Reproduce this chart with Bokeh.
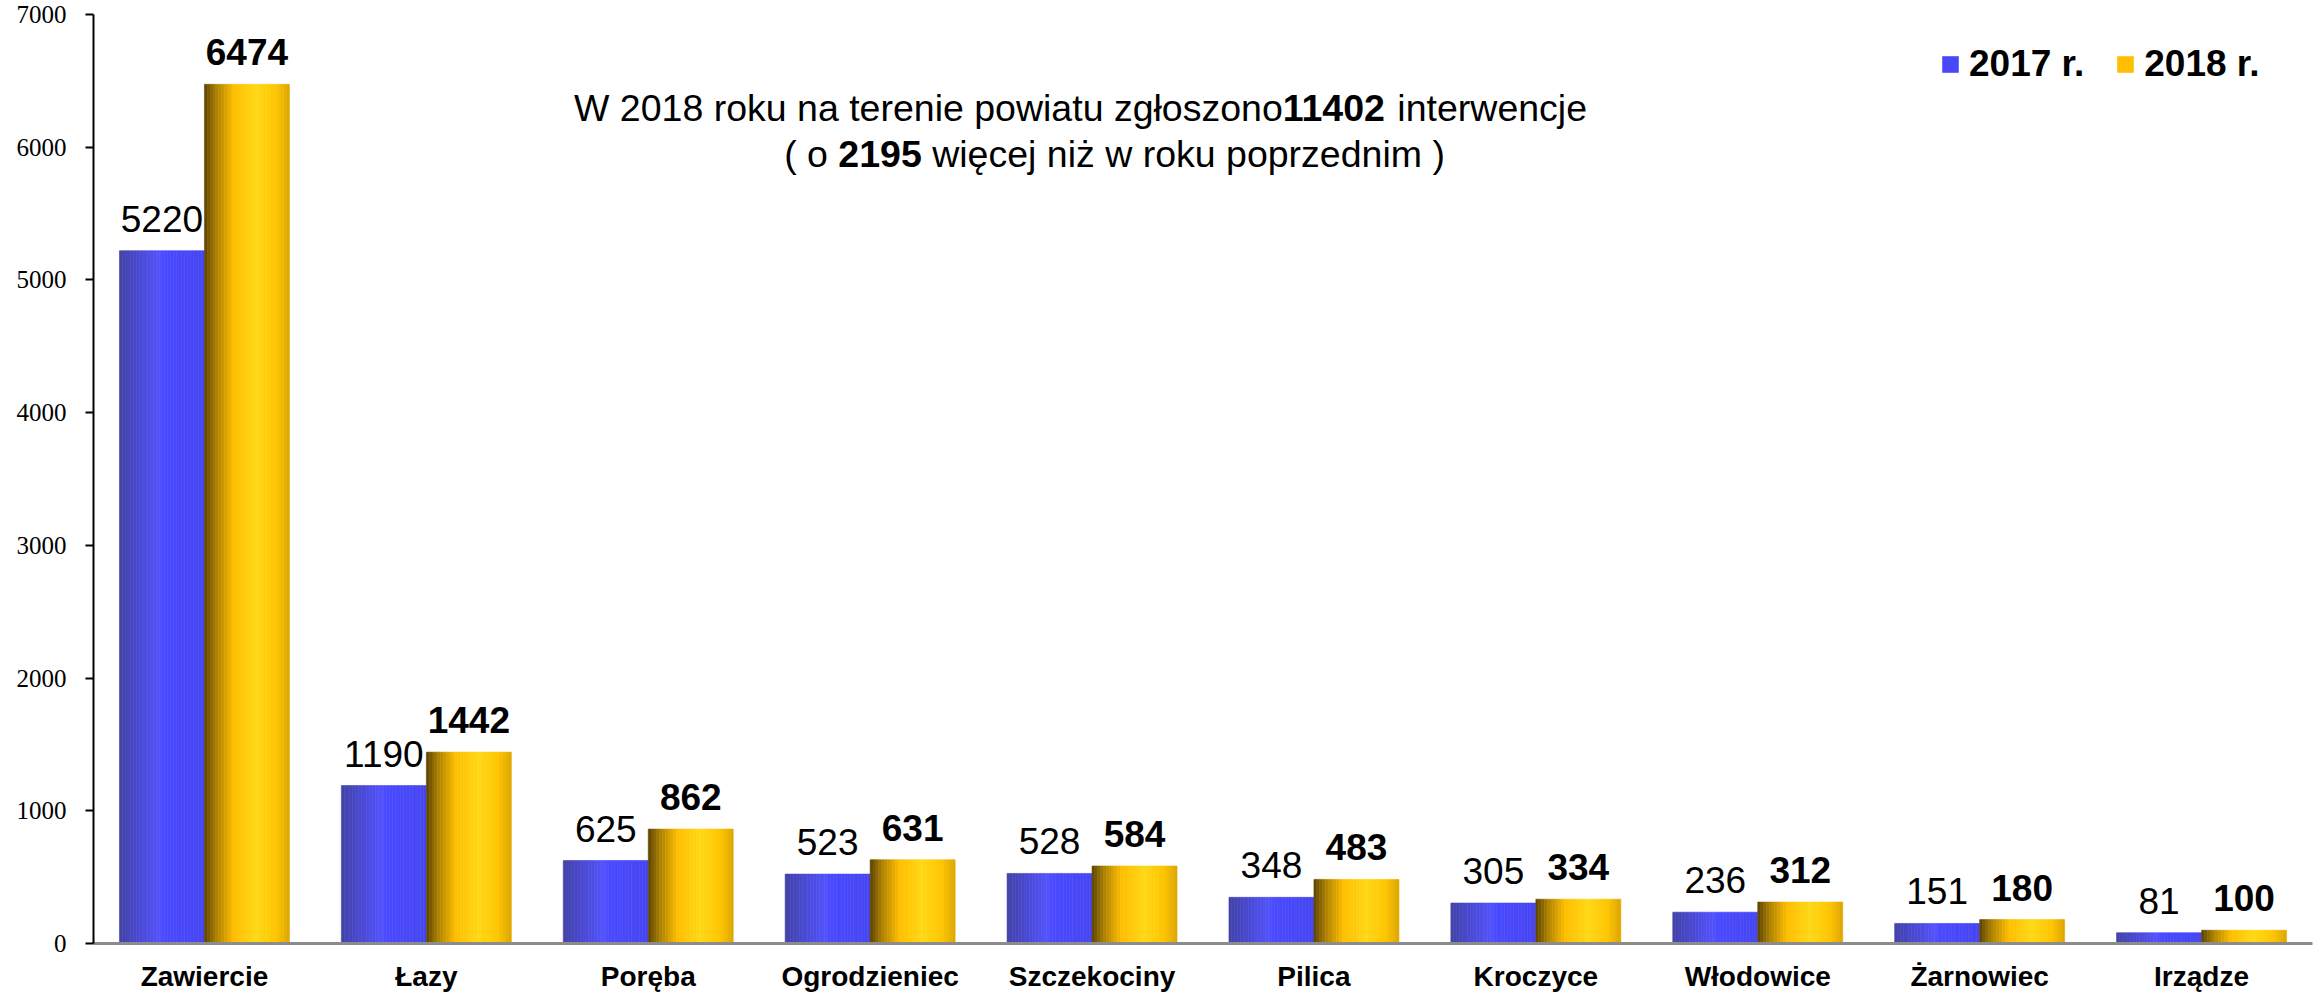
from bokeh.plotting import figure
from bokeh.models import (Range1d, FixedTicker, ColumnDataSource, LabelSet, Label,
                          Legend, LegendItem)
from bokeh.core.properties import value
from bokeh.embed import file_html
from bokeh.resources import INLINE

# ---------------- data ----------------
categories = ["Zawiercie", "Łazy", "Poręba", "Ogrodzieniec", "Szczekociny",
              "Pilica", "Kroczyce", "Włodowice", "Żarnowiec", "Irządze"]
values_2017 = [5220, 1190, 625, 523, 528, 348, 305, 236, 151, 81]
values_2018 = [6474, 1442, 862, 631, 584, 483, 334, 312, 180, 100]
series_names = ["2017 r.", "2018 r."]
y_ticks = [0, 1000, 2000, 3000, 4000, 5000, 6000, 7000]
title_line1 = [("W 2018 roku na terenie powiatu zgłoszono", "normal"),
               ("11402", "bold"), (" interwencje", "normal")]
title_line2 = [("( o ", "normal"), ("2195", "bold"),
               (" więcej niż w roku poprzednim )", "normal")]

# ---------------- layout constants ----------------
FRAME_W, FRAME_H = 2219, 929
LEFT, TOP = 93, 14          # canvas offsets of the frame
Y_MAX = 7000
BAR_W = 0.383
OFFS = [-0.1915, 0.1915]
N_STRIPS = 30

blue_stops = [(0.0, "#4242a6"), (0.25, "#4a4ad6"), (0.5, "#5454ff"),
              (0.52, "#4a4aff"), (1.0, "#4646f2")]
gold_stops = [(0.0, "#5a4300"), (0.15, "#b08300"), (0.35, "#ffbf00"),
              (0.62, "#ffd816"), (0.85, "#ffc400"), (1.0, "#dca600")]


def hex2rgb(h):
    h = h.lstrip("#")
    return tuple(int(h[i:i + 2], 16) for i in (0, 2, 4))


def interp(stops, t):
    for (t0, c0), (t1, c1) in zip(stops[:-1], stops[1:]):
        if t0 <= t <= t1:
            f = 0 if t1 == t0 else (t - t0) / (t1 - t0)
            a, b = hex2rgb(c0), hex2rgb(c1)
            return "#%02x%02x%02x" % tuple(int(round(a[i] + (b[i] - a[i]) * f)) for i in range(3))
    return stops[-1][1]


p = figure(frame_width=FRAME_W, frame_height=FRAME_H,
           x_range=Range1d(0, len(categories)), y_range=Range1d(0, Y_MAX),
           output_backend="svg", toolbar_location=None,
           min_border_left=LEFT, min_border_right=10, min_border_top=TOP,
           min_border_bottom=50)
p.outline_line_color = None
p.xgrid.visible = False
p.ygrid.visible = False
p.background_fill_color = "white"
p.border_fill_color = "white"

# ---------------- bars with cylinder shading ----------------
renderers = []
for s, (vals, stops) in enumerate([(values_2017, blue_stops), (values_2018, gold_stops)]):
    xs, tops, ws, cols = [], [], [], []
    for i, v in enumerate(vals):
        left = i + 0.5 + OFFS[s] - BAR_W / 2
        for k in range(N_STRIPS):
            t = (k + 0.5) / N_STRIPS
            xs.append(left + (k + 0.5) * BAR_W / N_STRIPS)
            tops.append(v)
            ws.append(BAR_W / N_STRIPS)
            cols.append(interp(stops, t))
    src = ColumnDataSource(dict(x=xs, top=tops, w=ws, color=cols))
    r = p.vbar(x="x", top="top", bottom=0, width="w", source=src,
               fill_color="color", line_color="color", line_width=0.6)
    renderers.append(r)

# ---------------- value labels ----------------
for s, vals in enumerate([values_2017, values_2018]):
    lsrc = ColumnDataSource(dict(x=[i + 0.5 + OFFS[s] for i in range(len(vals))],
                                 y=vals, text=[str(v) for v in vals]))
    p.add_layout(LabelSet(x="x", y="y", text="text", source=lsrc,
                          text_align="center", text_baseline="alphabetic",
                          y_offset=19, text_color="black",
                          text_font=value("Liberation Sans"),
                          text_font_size=value("37px"),
                          text_font_style="bold" if s == 1 else "normal"))

# ---------------- axes ----------------
p.yaxis.ticker = FixedTicker(ticks=y_ticks)
p.yaxis.major_label_text_font = "Liberation Serif"
p.yaxis.major_label_text_font_size = "25px"
p.yaxis.major_label_text_color = "black"
p.yaxis.axis_line_color = "black"
p.yaxis.axis_line_width = 2
p.yaxis.major_tick_line_color = "black"
p.yaxis.major_tick_line_width = 2
p.yaxis.major_tick_out = 8
p.yaxis.major_tick_in = 0
p.yaxis.minor_tick_out = 0
p.yaxis.minor_tick_in = 0
p.yaxis.major_label_standoff = 19

p.xaxis.ticker = FixedTicker(ticks=[i + 0.5 for i in range(len(categories))])
p.xaxis.major_label_overrides = {i + 0.5: c for i, c in enumerate(categories)}
p.xaxis.major_label_text_font = "Liberation Sans"
p.xaxis.major_label_text_font_style = "bold"
p.xaxis.major_label_text_font_size = "28px"
p.xaxis.major_label_text_color = "black"
p.xaxis.axis_line_color = "#8c8c8c"
p.xaxis.axis_line_width = 3
p.xaxis.major_tick_out = 0
p.xaxis.major_tick_in = 0
p.xaxis.minor_tick_out = 0
p.xaxis.minor_tick_in = 0
p.xaxis.major_label_standoff = 17

# ---------------- title (mixed bold runs) ----------------
W_REG = {' ': 278, '(': 333, ')': 333, 'W': 944, 'a': 556, 'c': 500, 'd': 556,
         'e': 556, 'g': 556, 'i': 222, 'j': 222, 'k': 500, 'l': 222, 'ł': 222,
         'm': 833, 'n': 556, 'o': 556, 'p': 556, 'r': 333, 's': 500, 't': 278,
         'u': 556, 'w': 722, 'z': 500, 'ż': 500, 'ę': 556}
TITLE_PX = 37.5


def run_width(txt):
    return sum(556 if ch.isdigit() else W_REG.get(ch, 556) for ch in txt) / 1000 * TITLE_PX


def px_to_x(px):      # canvas px -> data x
    return (px - LEFT) / FRAME_W * len(categories)


def py_to_y(py):      # canvas px -> data y
    return (TOP + FRAME_H - py) / FRAME_H * Y_MAX


for runs, cx, base in [(title_line1, 1080, 107), (title_line2, 1114, 153)]:
    total = sum(run_width(t) for t, _ in runs)
    x0 = cx - total / 2
    for t, style in runs:
        lead = len(t) - len(t.lstrip(" "))
        p.add_layout(Label(x=px_to_x(x0 + run_width(" " * lead)), y=py_to_y(base),
                           text=t.strip(" "),
                           text_font="Liberation Sans", text_font_size=f"{TITLE_PX}px",
                           text_font_style=style, text_color="black",
                           text_align="left", text_baseline="alphabetic"))
        x0 += run_width(t)

# ---------------- legend ----------------
legend = Legend(items=[LegendItem(label=series_names[0], renderers=[renderers[0]], index=22),
                       LegendItem(label=series_names[1], renderers=[renderers[1]], index=10)],
                orientation="horizontal", location=(1847, 858),
                padding=0, margin=0, spacing=31, label_standoff=9,
                glyph_width=20, glyph_height=20,
                label_text_font="Liberation Sans", label_text_font_style="bold",
                label_text_font_size="37px", label_text_color="black",
                border_line_alpha=0, background_fill_alpha=0)
p.add_layout(legend)

open("out.html", "w").write(file_html(p, INLINE))
